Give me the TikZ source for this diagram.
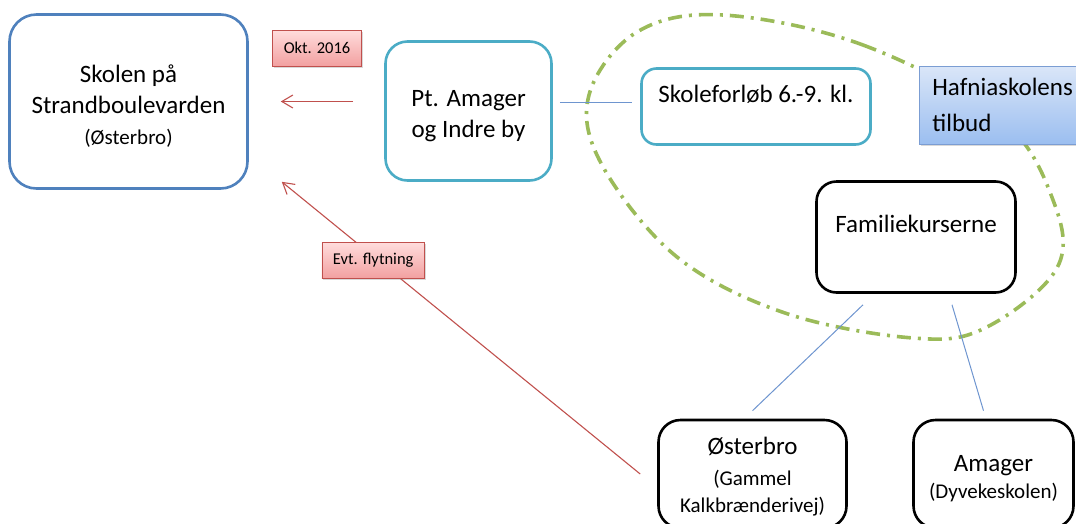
\documentclass[tikz,border=0pt]{standalone}
\usepackage{fontspec}
\setmainfont{Carlito}
\usetikzlibrary{positioning,calc,shadows,arrows.meta}

\definecolor{skolblue}{HTML}{4F81BD}
\definecolor{linkblue}{HTML}{6E95CF}
\definecolor{tealline}{HTML}{4BACC6}
\definecolor{redline}{HTML}{C0504D}
\definecolor{greenring}{HTML}{9BBB59}
\definecolor{lbltop}{HTML}{FFDCDC}
\definecolor{lblbot}{HTML}{F2A0A0}
\definecolor{hftop}{HTML}{DAE6F8}
\definecolor{hfbot}{HTML}{9BBEF0}
\definecolor{hfline}{HTML}{7B9DD3}

\newcommand\bigtxt{\fontsize{25}{31}\selectfont}
\newcommand\smalltxt{\fontsize{21}{25}\selectfont}
\newcommand\topstrut[1][26pt]{\rule{0pt}{#1}}

\begin{document}
\begin{tikzpicture}[x=1pt, y=-1pt,
    box/.style={draw, line width=2.6pt, rounded corners=#1, fill=white,
      align=center, font=\bigtxt, inner sep=0pt},
    box/.default=20pt,
    lbl/.style={draw=redline, line width=0.8pt, top color=lbltop, bottom color=lblbot,
      font=\fontsize{16.5}{20}\selectfont, inner xsep=11pt, inner ysep=0pt,
      minimum height=36pt,
      drop shadow={shadow xshift=1.5pt, shadow yshift=-2pt, opacity=.3}},
    rarrow/.style={draw=redline, line width=1.1pt, -{Straight Barb[length=11pt,width=13pt]}},
    blink/.style={draw=linkblue, line width=1pt},
    ring/.style={draw=greenring, line width=3.6pt,
      dash pattern=on 14pt off 7pt on 3pt off 7pt}]
  \useasboundingbox (0,0) rectangle (1076,523);
  \clip (0,0) rectangle (1076,523);

  % the ring round the offer
  \draw[ring] plot[smooth cycle, tension=0.6] coordinates {
    (723,15) (863,45) (1000,118) (1053,200) (1057,268) (985,328) (913,338)
    (785,313) (677,257) (602,165) (589,95) (637,32)};

  \node[box=27pt, draw=skolblue, minimum width=238pt, minimum height=174pt] (skolen) at (128.5,101.5)
    {\topstrut Skolen på\\Strandboulevarden\\{\smalltxt (Østerbro)}};
  \node[box=22pt, draw=tealline, minimum width=166pt, minimum height=139pt] (ptam) at (468.5,111)
    {\topstrut Pt. Amager\\og Indre by};
  \node[box=15pt, draw=tealline, minimum width=229pt, minimum height=76pt,
    label={[font=\bigtxt, yshift=12pt]center:Skoleforløb 6.-9. kl.}] (skolef) at (756,106.5) {};
  \node[box=20pt, minimum width=199pt, minimum height=111pt,
    label={[font=\bigtxt, yshift=13pt]center:Familiekurserne}] (fam) at (916,237) {};
  \node[box=22pt, minimum width=188pt, minimum height=108pt] (oster) at (752.5,474)
    {\topstrut[22pt]Østerbro\\{\smalltxt (Gammel}\\[-4pt]{\smalltxt Kalkbrænderivej)}};
  \node[box=22pt, minimum width=160pt, minimum height=108pt] (amager) at (993.5,474)
    {\topstrut Amager\\[-4pt]{\smalltxt (Dyvekeskolen)}};

  % connectors
  \draw[blink] ([xshift=7pt,yshift=-0.5pt]ptam.east |- skolen.east) -- ([xshift=-8pt,yshift=-0.5pt]skolef.west |- skolen.east);
  \draw[blink] ([xshift=-53pt,yshift=-11pt]fam.south) -- ([yshift=8pt]oster.north);
  \draw[blink] ([xshift=36pt,yshift=-11pt]fam.south) -- ([xshift=-10pt,yshift=8pt]amager.north);

  \node[anchor=west, draw=hfline, line width=0.8pt, top color=hftop, bottom color=hfbot,
    align=left, font=\bigtxt, text width=150pt, inner xsep=13pt, minimum height=78pt,
    drop shadow={shadow xshift=1.5pt, shadow yshift=-2pt, opacity=.3}] (hafnia) at (919,105)
    {Hafniaskolens\\[5pt]tilbud};

  \draw[rarrow] ([xshift=-31pt]ptam.west |- skolen.east) -- ([xshift=32pt]skolen.east)
    node[lbl, midway, above=35pt] (okt) {Okt. 2016};
  \draw[rarrow] ([xshift=-17pt]oster.west) -- ([xshift=33pt,yshift=8pt]skolen.south east)
    node[lbl, pos=0.745, yshift=-4pt] (evt) {Evt. flytning};
\end{tikzpicture}
\end{document}
